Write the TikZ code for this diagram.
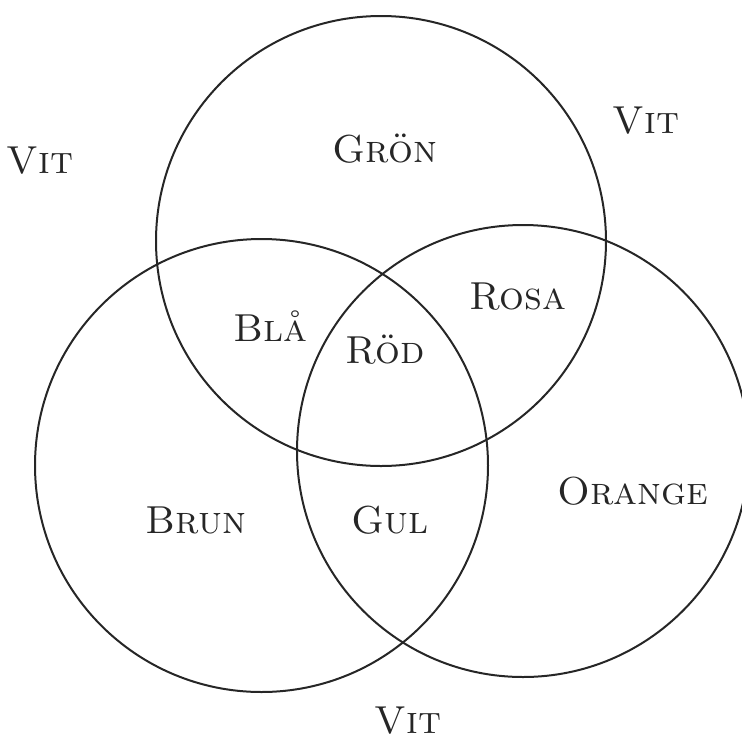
\documentclass[tikz,border=0pt]{standalone}
\begin{document}
\begin{tikzpicture}[x=1pt,y=-1pt,
  ring/.style={draw=black!85,line width=2pt},
  lbl/.style={font=\fontsize{39}{44}\selectfont\scshape,text=black!85,inner sep=0pt}]
\useasboundingbox (0,0) rectangle (742,740);
\draw[ring] (381,241) circle[radius=225];
\draw[ring] (261.5,465.5) circle[radius=226.5];
\draw[ring] (523,451) circle[radius=226];
\node[lbl] (vitl) at (40,161) {Vit};
\node[lbl] (vitr) at (646,121) {Vit};
\node[lbl] (vitb) at (408,721) {Vit};
\node[lbl] (gron) at (385,149) {Grön};
\node[lbl] (bla) at (270,326) {Blå};
\node[lbl] (rosa) at (518,297) {Rosa};
\node[lbl] (rod) at (385,350) {Röd};
\node[lbl] (brun) at (196,520) {Brun};
\node[lbl] (gul) at (390,520) {Gul};
\node[lbl] (orange) at (633,491) {Orange};
\end{tikzpicture}
\end{document}
